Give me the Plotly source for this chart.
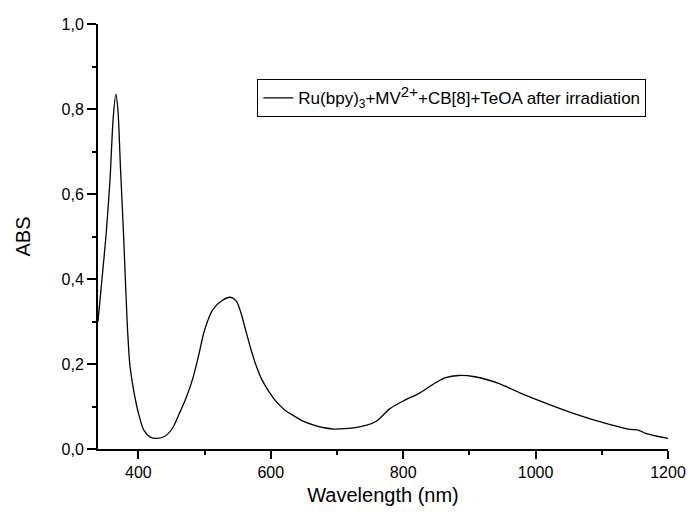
import plotly.graph_objects as go

# Wavelength (nm) and absorbance
wavelength = [339, 345, 351, 357, 362, 366, 369, 373, 378, 383, 387, 391, 395, 400,
              408, 418, 428, 440, 452, 462, 472, 482, 491, 500, 512, 527, 539, 548,
              555, 562, 569, 577, 586, 596, 608, 621, 635, 648, 665, 680, 695, 712,
              730, 745, 760, 770, 780, 800, 824, 849, 864, 884, 908, 943, 978, 1017,
              1057, 1102, 1140, 1156, 1166, 1200]
absorbance = [0.30, 0.40, 0.50, 0.63, 0.78, 0.835, 0.80, 0.66, 0.49, 0.30, 0.20, 0.155,
              0.12, 0.085, 0.045, 0.028, 0.025, 0.03, 0.05, 0.084, 0.12, 0.165, 0.22,
              0.28, 0.327, 0.350, 0.357, 0.348, 0.320, 0.28, 0.24, 0.20, 0.165, 0.138,
              0.112, 0.092, 0.078, 0.066, 0.056, 0.05, 0.047, 0.048, 0.051, 0.056,
              0.066, 0.08, 0.095, 0.113, 0.131, 0.156, 0.168, 0.173, 0.170, 0.155,
              0.131, 0.107, 0.084, 0.062, 0.047, 0.044, 0.037, 0.025]

series_name = ("Ru(bpy)<sub>3</sub>+MV<sup><span style='font-size:15px'>2+</span></sup>"
               "+CB[8]+TeOA after irradiation")

x_tickvals = [400, 600, 800, 1000, 1200]
x_ticktext = ["400", "600", "800", "1000", "1200"]
y_tickvals = [0.0, 0.2, 0.4, 0.6, 0.8, 1.0]
y_ticktext = ["0,0", "0,2", "0,4", "0,6", "0,8", "1,0"]

FONT = "Arial, Liberation Sans, sans-serif"

fig = go.Figure()
fig.add_trace(go.Scatter(
    x=wavelength, y=absorbance, mode="lines", name=series_name,
    line=dict(color="black", width=1.3, shape="spline", smoothing=0.8),
    showlegend=True,
))

fig.update_layout(
    width=698, height=516,
    margin=dict(l=98, r=22, t=24, b=67),
    paper_bgcolor="white", plot_bgcolor="white",
    font=dict(family=FONT, color="black", size=16),
    showlegend=True,
    legend=dict(
        x=0.962, y=0.87, xanchor="right", yanchor="top",
        bgcolor="white", bordercolor="black", borderwidth=1,
        font=dict(family=FONT, size=17, color="black"),
        itemwidth=30,
    ),
    xaxis=dict(
        range=[339, 1200],
        tickvals=x_tickvals, ticktext=x_ticktext,
        ticks="outside", ticklen=8, tickwidth=1.5, tickcolor="black",
        minor=dict(dtick=100, tick0=0, ticks="outside", ticklen=4, tickwidth=1.5, tickcolor="black"),
        showline=True, linecolor="black", linewidth=2,
        showgrid=False, zeroline=False,
        tickfont=dict(size=16),
        title=dict(text="Wavelength (nm)", font=dict(size=20), standoff=8),
    ),
    yaxis=dict(
        range=[0, 1.0],
        tickvals=y_tickvals, ticktext=y_ticktext,
        ticks="outside", ticklen=9, tickwidth=1.5, tickcolor="black",
        minor=dict(dtick=0.1, tick0=0, ticks="outside", ticklen=4, tickwidth=1.5, tickcolor="black"),
        showline=True, linecolor="black", linewidth=2,
        showgrid=False, zeroline=False,
        tickfont=dict(size=16),
        title=dict(text="ABS", font=dict(size=20), standoff=26),
    ),
)

fig.write_html("out.html")
